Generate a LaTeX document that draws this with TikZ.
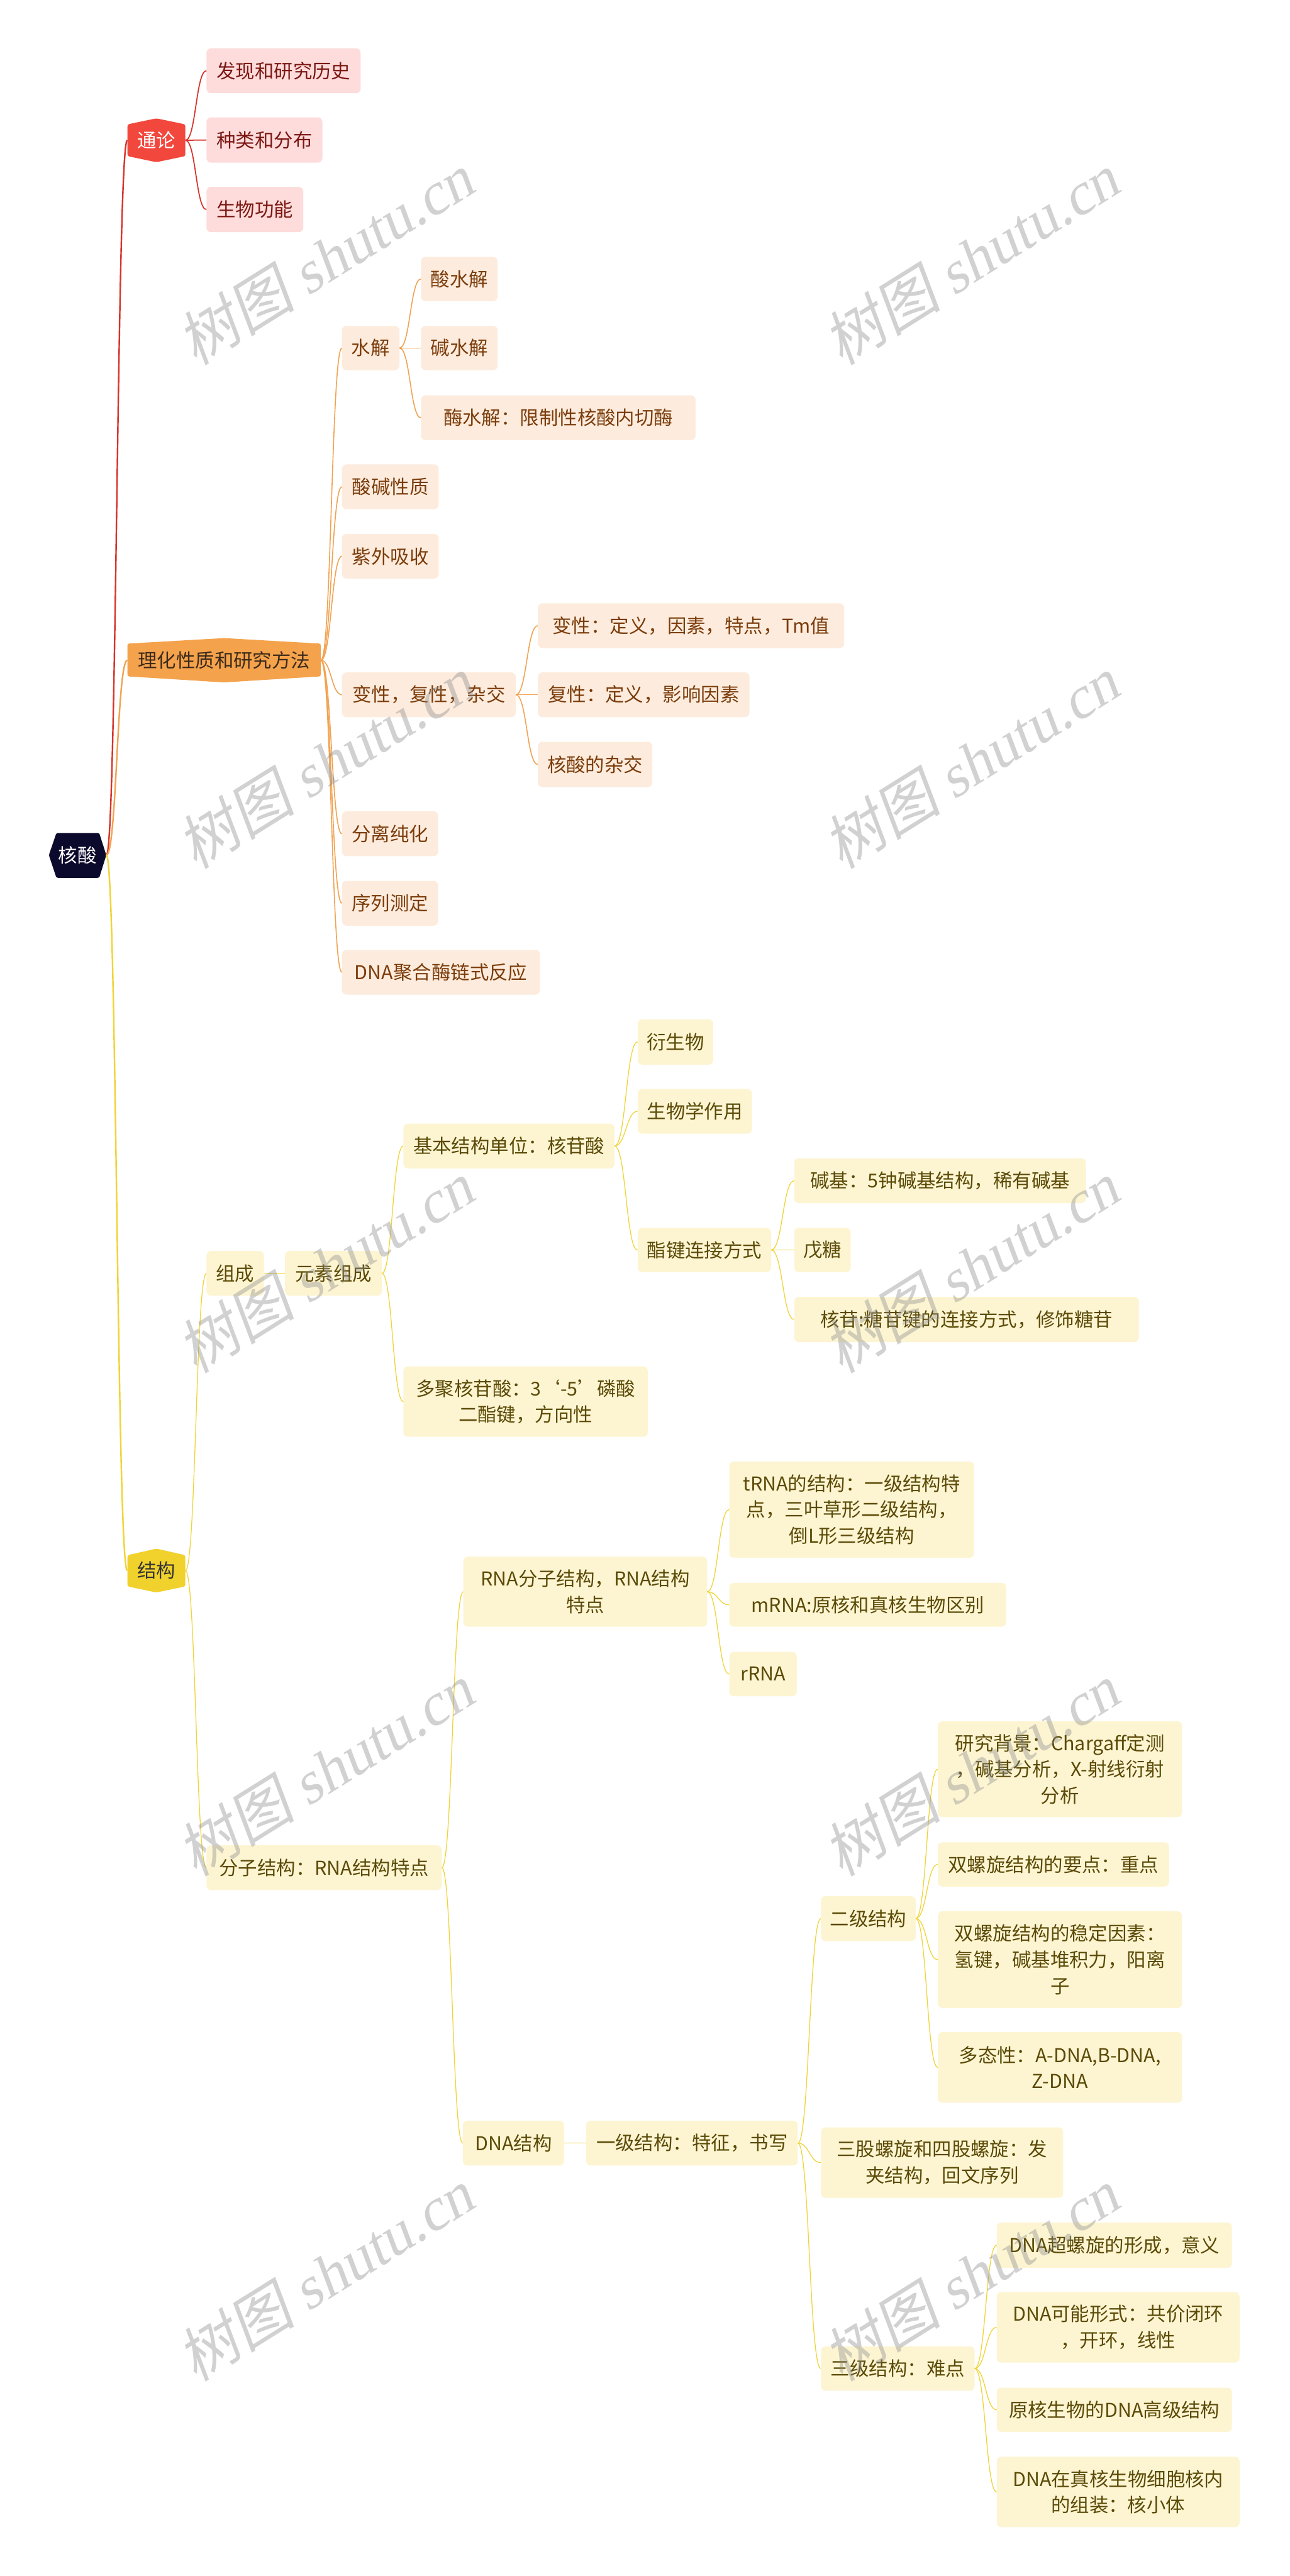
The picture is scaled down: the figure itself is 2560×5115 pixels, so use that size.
\documentclass[tikz,border=0pt]{standalone}
\usepackage{fontspec}
\setmainfont{Noto Sans CJK SC}
\newfontfamily\wmcjk{Noto Sans CJK SC}[FakeSlant=0.2]
\newfontfamily\wmlat{Liberation Serif}[FakeSlant=0.2]
\usetikzlibrary{calc}
\definecolor{rootfill}{HTML}{0B0A2D}
\definecolor{redfill}{HTML}{F2473D}
\definecolor{orangefill}{HTML}{F4A24C}
\definecolor{yellowfill}{HTML}{F1D12B}
\definecolor{pinkfill}{HTML}{FDDCDB}
\definecolor{pinktext}{HTML}{7B1712}
\definecolor{peachfill}{HTML}{FDECDD}
\definecolor{peachtext}{HTML}{7B3C0B}
\definecolor{creamfill}{HTML}{FDF5D2}
\definecolor{creamtext}{HTML}{5B4A07}
\definecolor{redline}{HTML}{D6352C}
\definecolor{orangeline}{HTML}{F1A352}
\definecolor{yellowline}{HTML}{F0D437}
\definecolor{orangetext}{HTML}{3B2A1A}
\definecolor{yellowtext}{HTML}{333333}
\tikzset{
  box/.style={inner sep=0pt, rounded corners=9pt, align=center, font=\fontsize{38}{52}\selectfont},
  pinkbox/.style={box, fill=pinkfill, text=pinktext},
  peachbox/.style={box, fill=peachfill, text=peachtext},
  creambox/.style={box, fill=creamfill, text=creamtext},
  hexlabel/.style={inner sep=0pt, font=\fontsize{38}{52}\selectfont},
  rootred/.style={draw=redline, line width=3pt},
  rootorange/.style={draw=orangeline, line width=3pt},
  rootyellow/.style={draw=yellowline, line width=3pt},
  redln/.style={draw=redline, line width=2.2pt},
  orangeln/.style={draw=orangeline, line width=2pt},
  yellowln/.style={draw=yellowline, line width=1.6pt},
  wm/.style={inner sep=0pt, text=black!45, text opacity=0.4, font=\fontsize{118}{120}\selectfont, rotate=32}
}
\newcommand\mybox[7]{\node[#1, minimum width=#5pt-#3pt, minimum height=#6pt-#4pt] (#2) at ({(#3+#5)/2},{(#4+#6)/2}) {#7};}
\newcommand\lnk[3]{\draw[#1] (#2.east) .. controls ($(#2.east)!0.5!(#3.west|-#2.east)$) and ($(#3.west)!0.5!(#2.east|-#3.west)$) .. (#3.west);}
\begin{document}
\begin{tikzpicture}[x=1pt,y=-1pt]
\fill[white] (0,0) rectangle (2560,5115);
\useasboundingbox (0,0) rectangle (2560,5115);

% hexagon shapes
\fill[rootfill, rounded corners=3pt] (97,1698) -- (112,1654) -- (197,1654) -- (211,1698) -- (197,1743) -- (112,1743) -- cycle;
\fill[redfill, rounded corners=4pt] (253,247) -- (310.5,235) -- (368,247) -- (368,310) -- (310.5,322) -- (253,310) -- cycle;
\fill[orangefill, rounded corners=4pt] (253,1278) -- (445,1267) -- (637,1278) -- (637,1343) -- (445,1355) -- (253,1343) -- cycle;
\fill[yellowfill, rounded corners=4pt] (253,3088) -- (310.5,3075) -- (368,3088) -- (368,3150) -- (310.5,3162) -- (253,3150) -- cycle;

\node[hexlabel, text=white, minimum width=114pt, minimum height=89pt] (root) at (154,1698) {核酸};
\node[hexlabel, text=white, minimum width=115pt, minimum height=87pt] (tl) at (310.5,278.5) {通论};
\node[hexlabel, text=orangetext, minimum width=384pt, minimum height=88pt] (lh) at (445,1311) {理化性质和研究方法};
\node[hexlabel, text=yellowtext, minimum width=115pt, minimum height=87pt] (jg) at (310.5,3118.5) {结构};

% 通论 children
\mybox{pinkbox}{a1}{410}{96}{716}{185}{发现和研究历史}
\mybox{pinkbox}{a2}{410}{233}{640}{323}{种类和分布}
\mybox{pinkbox}{a3}{410}{371}{602}{461}{生物功能}

% 理化 children
\mybox{peachbox}{b1}{679}{647}{793}{735}{水解}
\mybox{peachbox}{b11}{836}{510}{988}{598}{酸水解}
\mybox{peachbox}{b12}{836}{647}{988}{735}{碱水解}
\mybox{peachbox}{b13}{836}{785}{1381}{874}{酶水解：限制性核酸内切酶}
\mybox{peachbox}{b2}{679}{922}{871}{1011}{酸碱性质}
\mybox{peachbox}{b3}{679}{1060}{871}{1149}{紫外吸收}
\mybox{peachbox}{b4}{679}{1335}{1024}{1424}{变性，复性，杂交}
\mybox{peachbox}{b41}{1068}{1198}{1676}{1287}{变性：定义，因素，特点，Tm值}
\mybox{peachbox}{b42}{1068}{1335}{1488}{1424}{复性：定义，影响因素}
\mybox{peachbox}{b43}{1068}{1473}{1295}{1563}{核酸的杂交}
\mybox{peachbox}{b5}{679}{1611}{870}{1700}{分离纯化}
\mybox{peachbox}{b6}{679}{1749}{870}{1838}{序列测定}
\mybox{peachbox}{b7}{679}{1886}{1072}{1975}{DNA聚合酶链式反应}

% 结构 descendants
\mybox{creambox}{c1}{410}{2484}{524}{2573}{组成}
\mybox{creambox}{c11}{566}{2484}{758}{2573}{元素组成}
\mybox{creambox}{c111}{801}{2231}{1220}{2320}{基本结构单位：核苷酸}
\mybox{creambox}{c1111}{1266}{2024}{1416}{2114}{衍生物}
\mybox{creambox}{c1112}{1266}{2162}{1493}{2251}{生物学作用}
\mybox{creambox}{c1113}{1266}{2438}{1531}{2526}{酯键连接方式}
\mybox{creambox}{c11131}{1577}{2300}{2156}{2389}{碱基：5钟碱基结构，稀有碱基}
\mybox{creambox}{c11132}{1577}{2438}{1689}{2526}{戊糖}
\mybox{creambox}{c11133}{1577}{2575}{2261}{2665}{核苷:糖苷键的连接方式，修饰糖苷}
\mybox{creambox}{c112}{801}{2713}{1286}{2853}{多聚核苷酸：3‘-5’磷酸\\二酯键，方向性}
\mybox{creambox}{c2}{410}{3664}{877}{3753}{分子结构：RNA结构特点}
\mybox{creambox}{c21}{920}{3091}{1404}{3230}{RNA分子结构，RNA结构\\特点}
\mybox{creambox}{c211}{1448}{2902}{1934}{3093}{tRNA的结构：一级结构特\\点，三叶草形二级结构，\\倒L形三级结构}
\mybox{creambox}{c212}{1448}{3143}{1998}{3230}{mRNA:原核和真核生物区别}
\mybox{creambox}{c213}{1448}{3280}{1582}{3368}{rRNA}
\mybox{creambox}{c22}{919}{4211}{1120}{4300}{DNA结构}
\mybox{creambox}{c221}{1164}{4211}{1584}{4300}{一级结构：特征，书写}
\mybox{creambox}{c2211}{1630}{3765}{1818}{3854}{二级结构}
\mybox{creambox}{c22111}{1862}{3418}{2347}{3608}{研究背景：Chargaff定测\\，碱基分析，X-射线衍射\\分析}
\mybox{creambox}{c22112}{1862}{3658}{2321}{3746}{双螺旋结构的要点：重点}
\mybox{creambox}{c22113}{1862}{3795}{2347}{3987}{双螺旋结构的稳定因素：\\氢键，碱基堆积力，阳离\\子}
\mybox{creambox}{c22114}{1862}{4035}{2347}{4175}{多态性：A-DNA,B-DNA,\\Z-DNA}
\mybox{creambox}{c2212}{1630}{4224}{2111}{4364}{三股螺旋和四股螺旋：发\\夹结构，回文序列}
\mybox{creambox}{c2213}{1630}{4659}{1935}{4747}{三级结构：难点}
\mybox{creambox}{c22131}{1979}{4413}{2446}{4503}{DNA超螺旋的形成，意义}
\mybox{creambox}{c22132}{1979}{4551}{2461}{4691}{DNA可能形式：共价闭环\\，开环，线性}
\mybox{creambox}{c22133}{1979}{4741}{2446}{4829}{原核生物的DNA高级结构}
\mybox{creambox}{c22134}{1979}{4878}{2461}{5018}{DNA在真核生物细胞核内\\的组装：核小体}

% connectors
\lnk{rootred}{root}{tl}
\lnk{rootorange}{root}{lh}
\lnk{rootyellow}{root}{jg}
\lnk{redln}{tl}{a1}
\lnk{redln}{tl}{a2}
\lnk{redln}{tl}{a3}
\lnk{orangeln}{lh}{b1}
\lnk{orangeln}{lh}{b2}
\lnk{orangeln}{lh}{b3}
\lnk{orangeln}{lh}{b4}
\lnk{orangeln}{lh}{b5}
\lnk{orangeln}{lh}{b6}
\lnk{orangeln}{lh}{b7}
\lnk{orangeln}{b1}{b11}
\lnk{orangeln}{b1}{b12}
\lnk{orangeln}{b1}{b13}
\lnk{orangeln}{b4}{b41}
\lnk{orangeln}{b4}{b42}
\lnk{orangeln}{b4}{b43}
\lnk{yellowln}{jg}{c1}
\lnk{yellowln}{jg}{c2}
\lnk{yellowln}{c1}{c11}
\lnk{yellowln}{c11}{c111}
\lnk{yellowln}{c11}{c112}
\lnk{yellowln}{c111}{c1111}
\lnk{yellowln}{c111}{c1112}
\lnk{yellowln}{c111}{c1113}
\lnk{yellowln}{c1113}{c11131}
\lnk{yellowln}{c1113}{c11132}
\lnk{yellowln}{c1113}{c11133}
\lnk{yellowln}{c2}{c21}
\lnk{yellowln}{c2}{c22}
\lnk{yellowln}{c21}{c211}
\lnk{yellowln}{c21}{c212}
\lnk{yellowln}{c21}{c213}
\lnk{yellowln}{c22}{c221}
\lnk{yellowln}{c221}{c2211}
\lnk{yellowln}{c221}{c2212}
\lnk{yellowln}{c221}{c2213}
\lnk{yellowln}{c2211}{c22111}
\lnk{yellowln}{c2211}{c22112}
\lnk{yellowln}{c2211}{c22113}
\lnk{yellowln}{c2211}{c22114}
\lnk{yellowln}{c2213}{c22131}
\lnk{yellowln}{c2213}{c22132}
\lnk{yellowln}{c2213}{c22133}
\lnk{yellowln}{c2213}{c22134}

% watermarks
\node[wm] (w1) at (645,515) {\wmcjk 树图 \wmlat shutu.cn};
\node[wm] (w2) at (1927,515) {\wmcjk 树图 \wmlat shutu.cn};
\node[wm] (w3) at (645,1515) {\wmcjk 树图 \wmlat shutu.cn};
\node[wm] (w4) at (1927,1515) {\wmcjk 树图 \wmlat shutu.cn};
\node[wm] (w5) at (645,2517) {\wmcjk 树图 \wmlat shutu.cn};
\node[wm] (w6) at (1927,2517) {\wmcjk 树图 \wmlat shutu.cn};
\node[wm] (w7) at (645,3515) {\wmcjk 树图 \wmlat shutu.cn};
\node[wm] (w8) at (1927,3515) {\wmcjk 树图 \wmlat shutu.cn};
\node[wm] (w9) at (645,4518) {\wmcjk 树图 \wmlat shutu.cn};
\node[wm] (w10) at (1927,4518) {\wmcjk 树图 \wmlat shutu.cn};
\end{tikzpicture}
\end{document}
